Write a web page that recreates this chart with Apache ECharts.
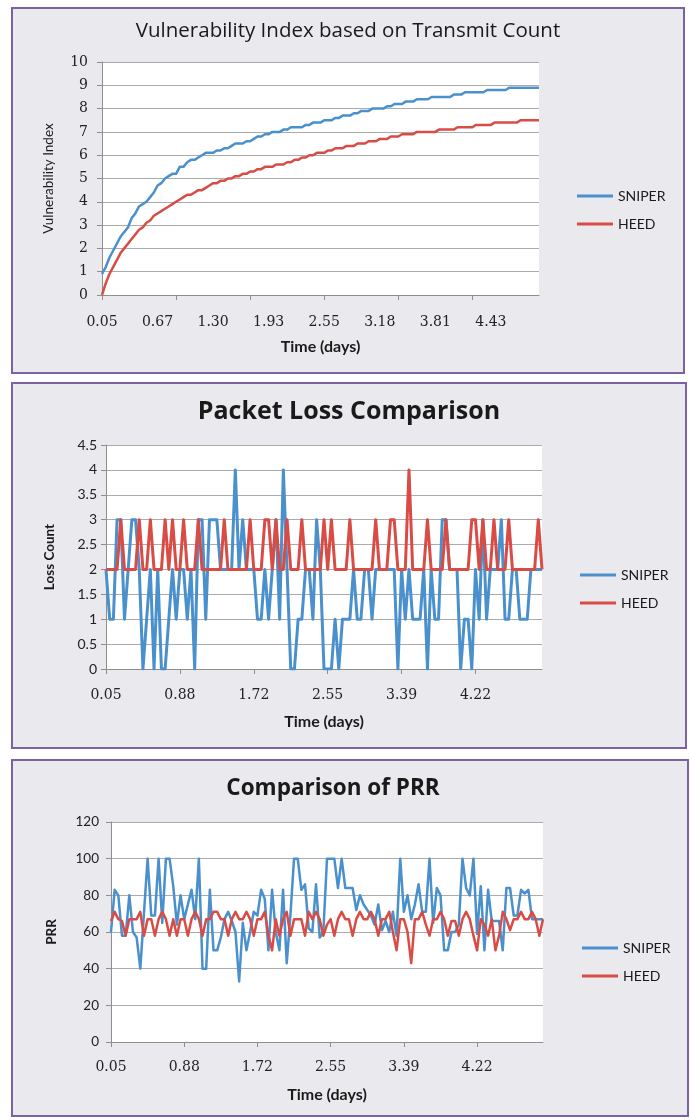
<!DOCTYPE html>
<html>
<head>
<meta charset="utf-8">
<script src="https://cdn.jsdelivr.net/npm/echarts@6/dist/echarts.min.js"></script>
<style>
  html, body { margin: 0; padding: 0; background: #ffffff; }
  #page { position: relative; width: 690px; height: 1120px; overflow: hidden; }
  .panel { position: absolute; box-sizing: border-box; border: 2px solid #7D62A3; background: #EAE9EE; }
  #chart { position: absolute; left: 0; top: 0; width: 690px; height: 1120px; }
</style>
</head>
<body>
<div id="page">
  <div class="panel" style="left:11px;top:7px;width:674px;height:367px;"></div>
  <div class="panel" style="left:11px;top:382px;width:676px;height:367px;"></div>
  <div class="panel" style="left:11px;top:759px;width:678px;height:358px;"></div>
  <div id="chart"></div>
</div>
<script>
// ---------- Data ----------
const SERIES_NAMES = ['SNIPER', 'HEED'];

const TOP_TICK_LABELS = ['0.05', '0.67', '1.30', '1.93', '2.55', '3.18', '3.81', '4.43'];
const LOWER_TICK_LABELS = ['0.05', '0.88', '1.72', '2.55', '3.39', '4.22'];
const TOP_LABEL_EVERY = 15;
const LOWER_LABEL_EVERY = 20;
const TICK_EVERY = 20;

// Chart 1: Vulnerability Index
const VULN_SNIPER = [
  0.9, 1.2, 1.6, 1.9, 2.2, 2.5, 2.7, 2.9, 3.3, 3.5,
  3.8, 3.9, 4.0, 4.2, 4.4, 4.7, 4.8, 5.0, 5.1, 5.2,
  5.2, 5.5, 5.5, 5.7, 5.8, 5.8, 5.9, 6.0, 6.1, 6.1,
  6.1, 6.2, 6.2, 6.3, 6.3, 6.4, 6.5, 6.5, 6.5, 6.6,
  6.6, 6.7, 6.8, 6.8, 6.9, 6.9, 7.0, 7.0, 7.0, 7.1,
  7.1, 7.2, 7.2, 7.2, 7.2, 7.3, 7.3, 7.4, 7.4, 7.4,
  7.5, 7.5, 7.5, 7.6, 7.6, 7.7, 7.7, 7.7, 7.8, 7.8,
  7.9, 7.9, 7.9, 8.0, 8.0, 8.0, 8.0, 8.1, 8.1, 8.2,
  8.2, 8.2, 8.3, 8.3, 8.3, 8.4, 8.4, 8.4, 8.4, 8.5,
  8.5, 8.5, 8.5, 8.5, 8.5, 8.6, 8.6, 8.6, 8.7, 8.7,
  8.7, 8.7, 8.7, 8.7, 8.8, 8.8, 8.8, 8.8, 8.8, 8.8,
  8.9, 8.9, 8.9, 8.9, 8.9, 8.9, 8.9, 8.9, 8.9
];
const VULN_HEED = [
  0.0, 0.5, 0.9, 1.2, 1.5, 1.8, 2.0, 2.2, 2.4, 2.6,
  2.8, 2.9, 3.1, 3.2, 3.4, 3.5, 3.6, 3.7, 3.8, 3.9,
  4.0, 4.1, 4.2, 4.3, 4.3, 4.4, 4.5, 4.5, 4.6, 4.7,
  4.8, 4.8, 4.9, 4.9, 5.0, 5.0, 5.1, 5.1, 5.2, 5.2,
  5.3, 5.3, 5.4, 5.4, 5.5, 5.5, 5.5, 5.6, 5.6, 5.6,
  5.7, 5.7, 5.8, 5.8, 5.9, 5.9, 6.0, 6.0, 6.1, 6.1,
  6.1, 6.2, 6.2, 6.3, 6.3, 6.3, 6.4, 6.4, 6.4, 6.5,
  6.5, 6.5, 6.6, 6.6, 6.6, 6.7, 6.7, 6.7, 6.8, 6.8,
  6.8, 6.9, 6.9, 6.9, 6.9, 7.0, 7.0, 7.0, 7.0, 7.0,
  7.0, 7.1, 7.1, 7.1, 7.1, 7.1, 7.2, 7.2, 7.2, 7.2,
  7.2, 7.3, 7.3, 7.3, 7.3, 7.3, 7.4, 7.4, 7.4, 7.4,
  7.4, 7.4, 7.4, 7.5, 7.5, 7.5, 7.5, 7.5, 7.5
];

// Chart 2: Packet Loss
const LOSS_SNIPER = [
  2, 1, 1, 3, 3, 1, 2, 3, 3, 2,
  0, 1, 2, 0, 2, 0, 0, 1, 2, 1,
  2, 2, 1, 2, 0, 3, 3, 1, 3, 3,
  3, 2, 2, 2, 2, 4, 2, 3, 2, 2,
  2, 1, 1, 2, 1, 2, 3, 1, 4, 2,
  0, 0, 1, 1, 2, 2, 1, 3, 2, 0,
  0, 0, 1, 0, 1, 1, 1, 2, 1, 1,
  2, 2, 1, 2, 2, 2, 2, 2, 2, 0,
  2, 1, 2, 1, 1, 1, 2, 0, 2, 1,
  1, 3, 3, 2, 2, 2, 0, 1, 1, 0,
  2, 1, 3, 1, 2, 2, 2, 3, 1, 1,
  2, 2, 1, 1, 1, 2, 2, 2, 2
];
const LOSS_HEED = [
  2, 2, 2, 2, 3, 2, 2, 2, 2, 3,
  2, 2, 3, 2, 2, 2, 3, 2, 3, 2,
  2, 3, 2, 2, 2, 3, 2, 2, 2, 2,
  2, 2, 3, 2, 2, 2, 2, 2, 2, 3,
  2, 2, 2, 3, 3, 2, 3, 2, 2, 3,
  2, 2, 2, 3, 2, 2, 2, 2, 2, 3,
  2, 3, 2, 2, 2, 2, 3, 2, 2, 2,
  2, 2, 2, 3, 2, 2, 2, 3, 3, 2,
  2, 2, 4, 2, 2, 2, 2, 3, 2, 2,
  2, 2, 3, 2, 2, 2, 2, 2, 2, 3,
  3, 2, 3, 2, 2, 3, 2, 2, 2, 3,
  2, 2, 2, 2, 2, 2, 2, 3, 2
];

// Chart 3: PRR
const PRR_SNIPER = [
  60, 83, 80, 58, 58, 80, 60, 57, 40, 70,
  100, 69, 69, 100, 65, 100, 100, 85, 64, 80,
  67, 75, 83, 67, 100, 40, 40, 83, 50, 50,
  57, 67, 71, 66, 60, 33, 65, 50, 60, 71,
  69, 83, 78, 50, 83, 60, 50, 83, 43, 69,
  100, 100, 83, 86, 62, 60, 86, 57, 60, 100,
  100, 100, 84, 100, 84, 84, 84, 72, 80, 75,
  72, 69, 64, 75, 61, 66, 60, 71, 58, 100,
  71, 80, 67, 75, 86, 71, 71, 100, 65, 84,
  80, 50, 50, 60, 60, 64, 100, 84, 80, 100,
  59, 85, 50, 83, 66, 66, 66, 50, 84, 84,
  69, 69, 83, 81, 83, 67, 67, 67, 67
];
const PRR_HEED = [
  66, 71, 67, 66, 58, 67, 67, 67, 71, 58,
  67, 67, 58, 67, 71, 67, 58, 67, 58, 67,
  67, 58, 67, 71, 67, 58, 67, 67, 71, 71,
  67, 67, 58, 67, 71, 67, 67, 71, 67, 58,
  67, 67, 71, 58, 50, 67, 58, 67, 71, 58,
  67, 67, 67, 58, 71, 67, 71, 67, 58, 64,
  67, 58, 67, 71, 67, 67, 58, 67, 71, 67,
  67, 71, 67, 58, 67, 67, 71, 60, 50, 67,
  67, 60, 43, 67, 67, 71, 64, 58, 67, 67,
  71, 67, 58, 66, 66, 58, 67, 71, 67, 58,
  50, 67, 64, 58, 67, 50, 58, 71, 67, 61,
  67, 67, 71, 67, 67, 71, 67, 58, 67
];

// ---------- Chart ----------
const BLUE = '#4A90CD';
const RED = '#D94C46';
const GRID_LINE = '#ABABAB';
const AXIS_LINE = '#8E8E8E';
const SANS = 'Lato, "Open Sans", sans-serif';
const TITLE_SANS = '"Open Sans", Lato, sans-serif';
const SERIF = '"DejaVu Serif", "Liberation Serif", serif';

const categories = VULN_SNIPER.map(function (_, i) { return String(i); });

function xAxisFor(gridIndex, tickLabels, labelEvery, margin, nameGap) {
  return {
    type: 'category', gridIndex: gridIndex, data: categories, boundaryGap: false,
    axisLine: { lineStyle: { color: AXIS_LINE, width: 1 } },
    axisTick: { show: true, interval: TICK_EVERY - 1, length: 5, lineStyle: { color: AXIS_LINE } },
    axisLabel: {
      interval: labelEvery - 1, margin: margin, color: '#222', fontSize: 14, fontFamily: SERIF,
      formatter: function (v, idx) {
        return (idx % labelEvery === 0 && tickLabels[idx / labelEvery]) ? tickLabels[idx / labelEvery] : '';
      }
    },
    splitLine: { show: false },
    name: 'Time (days)', nameLocation: 'middle', nameGap: nameGap,
    nameTextStyle: { color: '#1a1a1a', fontSize: 16, fontWeight: 'bold', fontFamily: SANS }
  };
}

function yAxisFor(gridIndex, max, interval, name, nameGap, bold, labelFont, labelSize, labelMargin) {
  return {
    type: 'value', gridIndex: gridIndex, min: 0, max: max, interval: interval,
    axisLine: { show: true, lineStyle: { color: AXIS_LINE, width: 1 } },
    axisTick: { show: true, length: 5, lineStyle: { color: AXIS_LINE } },
    axisLabel: { color: '#222', fontSize: labelSize, fontFamily: labelFont, margin: labelMargin },
    splitLine: { show: true, lineStyle: { color: GRID_LINE, width: 1 } },
    name: name, nameLocation: 'middle', nameGap: nameGap, nameRotate: 90,
    nameTextStyle: { color: '#1a1a1a', fontSize: 13.5, fontWeight: bold ? 'bold' : 'normal', fontFamily: SANS }
  };
}

function lineSeries(name, data, idx, color, width) {
  return {
    name: name, type: 'line', xAxisIndex: idx, yAxisIndex: idx, data: data,
    showSymbol: false, symbol: 'none', smooth: false,
    lineStyle: { color: color, width: width, join: 'round' },
    itemStyle: { color: color }, emphasis: { disabled: true }
  };
}

function legendAt(left, top) {
  return {
    data: SERIES_NAMES, orient: 'vertical', left: left, top: top,
    itemWidth: 36, itemHeight: 12, itemGap: 14, itemTextGap: 4, padding: 0,
    icon: 'path://M0,5 L36,5 L36,8 L0,8 Z',
    textStyle: { color: '#1a1a1a', fontSize: 14, fontFamily: SANS }
  };
}

const chart = echarts.init(document.getElementById('chart'), null, { renderer: 'canvas' });
chart.setOption({
  animation: false,
  backgroundColor: 'transparent',
  title: [
    { text: 'Vulnerability Index based on Transmit Count', left: 348, top: 21, textAlign: 'center', padding: 0,
      textStyle: { fontSize: 20.5, fontWeight: 'normal', color: '#1a1a1a', fontFamily: TITLE_SANS } },
    { text: 'Packet Loss Comparison', left: 349, top: 399, textAlign: 'center', padding: 0,
      textStyle: { fontSize: 25, fontWeight: 'bold', color: '#1a1a1a', fontFamily: TITLE_SANS } },
    { text: 'Comparison of PRR', left: 333, top: 777, textAlign: 'center', padding: 0,
      textStyle: { fontSize: 22.5, fontWeight: 'bold', color: '#1a1a1a', fontFamily: TITLE_SANS } }
  ],
  legend: [legendAt(577, 189), legendAt(580, 568), legendAt(582, 941)],
  grid: [
    { left: 102, top: 62, width: 437, height: 233, show: true, backgroundColor: '#ffffff', borderWidth: 0 },
    { left: 106, top: 445, width: 436, height: 224, show: true, backgroundColor: '#ffffff', borderWidth: 0 },
    { left: 111, top: 822, width: 432, height: 220, show: true, backgroundColor: '#ffffff', borderWidth: 0 }
  ],
  xAxis: [
    xAxisFor(0, TOP_TICK_LABELS, TOP_LABEL_EVERY, 20, 44),
    xAxisFor(1, LOWER_TICK_LABELS, LOWER_LABEL_EVERY, 19, 45),
    xAxisFor(2, LOWER_TICK_LABELS, LOWER_LABEL_EVERY, 18, 45)
  ],
  yAxis: [
    yAxisFor(0, 10, 1, 'Vulnerability Index', 46, false, SERIF, 14, 14),
    yAxisFor(1, 4.5, 0.5, 'Loss Count', 49, true, SANS, 14, 9),
    yAxisFor(2, 120, 20, 'PRR', 52, true, SANS, 13.5, 12)
  ],
  series: [
    lineSeries('SNIPER', VULN_SNIPER, 0, BLUE, 2.5),
    lineSeries('HEED', VULN_HEED, 0, RED, 2.5),
    lineSeries('SNIPER', LOSS_SNIPER, 1, BLUE, 3),
    lineSeries('HEED', LOSS_HEED, 1, RED, 3),
    lineSeries('SNIPER', PRR_SNIPER, 2, BLUE, 2.5),
    lineSeries('HEED', PRR_HEED, 2, RED, 2.5)
  ]
});
</script>
</body>
</html>
